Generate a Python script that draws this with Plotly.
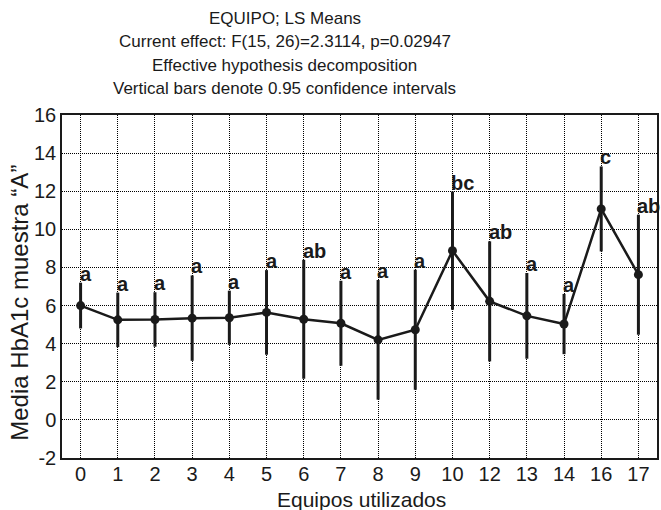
import plotly.graph_objects as go

equipos = ["0", "1", "2", "3", "4", "5", "6", "7", "8", "9", "10", "12", "13", "14", "16", "17"]
media = [6.0, 5.25, 5.27, 5.34, 5.36, 5.64, 5.28, 5.07, 4.2, 4.73, 8.88, 6.22, 5.46, 5.03, 11.07, 7.62]
ic_inf = [4.8, 3.82, 3.84, 3.1, 3.94, 3.42, 2.16, 2.84, 1.06, 1.58, 5.78, 3.07, 3.21, 3.45, 8.84, 4.47]
ic_sup = [7.2, 6.68, 6.7, 7.58, 6.78, 7.86, 8.4, 7.3, 7.34, 7.88, 11.98, 9.37, 7.71, 6.61, 13.3, 10.77]
grupos = ["a", "a", "a", "a", "a", "a", "ab", "a", "a", "a", "bc", "ab", "a", "a", "c", "ab"]

titulo = [
    "EQUIPO; LS Means",
    "Current effect: F(15, 26)=2.3114, p=0.02947",
    "Effective hypothesis decomposition",
    "Vertical bars denote 0.95 confidence intervals",
]
y_ticks = [-2, 0, 2, 4, 6, 8, 10, 12, 14, 16]
y_tick_labels = ["-2", "0", "2", "4", "6", "8", "10", "12", "14", "16"]

FONT = "Liberation Sans, Arial, sans-serif"

err_plus = [u - m for u, m in zip(ic_sup, media)]
err_minus = [m - l for m, l in zip(media, ic_inf)]

fig = go.Figure()
fig.add_trace(go.Scatter(
    x=equipos, y=media, mode="lines+markers",
    line=dict(color="#1a1a1a", width=2.5),
    marker=dict(color="#1a1a1a", size=9, symbol="circle"),
    error_y=dict(type="data", symmetric=False, array=err_plus, arrayminus=err_minus,
                 color="#1a1a1a", thickness=3, width=0),
    showlegend=False,
))

annotations = []
for i, (top, g) in enumerate(zip(ic_sup, grupos)):
    annotations.append(dict(
        x=i, y=top, xref="x", yref="y", text="<b>%s</b>" % g, showarrow=False,
        xanchor="left", yanchor="bottom", xshift=-3, yshift=-4,
        font=dict(family=FONT, size=20, color="#1a1a1a"),
    ))

title_y = [1.2800, 1.2140, 1.1440, 1.0760]
for t, yy in zip(titulo, title_y):
    annotations.append(dict(
        x=0.3744, y=yy, xref="paper", yref="paper", text=t, showarrow=False,
        xanchor="center", yanchor="middle",
        font=dict(family=FONT, size=17, color="#1a1a1a"),
    ))

annotations.append(dict(
    x=0.503, y=-0.122, xref="paper", yref="paper", text="Equipos utilizados",
    showarrow=False, xanchor="center", yanchor="middle",
    font=dict(family=FONT, size=21, color="#1a1a1a"),
))
annotations.append(dict(
    x=-0.071, y=0.452, xref="paper", yref="paper", text="Media HbA1c muestra “A”",
    showarrow=False, xanchor="center", yanchor="middle", textangle=-90,
    font=dict(family=FONT, size=24, color="#1a1a1a"),
))

fig.update_layout(
    width=661, height=510,
    margin=dict(l=62, r=2, t=115, b=52),
    paper_bgcolor="white", plot_bgcolor="white",
    font=dict(family=FONT, color="#1a1a1a"),
    annotations=annotations,
    xaxis=dict(
        type="category", range=[-0.5, 15.5],
        showgrid=True, gridcolor="#000000", gridwidth=1, griddash="1px,1px",
        showline=True, linecolor="#1a1a1a", linewidth=1.5, mirror=True,
        ticks="", tickfont=dict(family=FONT, size=20, color="#1a1a1a"),
        ticklabelstandoff=-3,
        zeroline=False,
    ),
    yaxis=dict(
        range=[-2, 16], tickvals=y_ticks, ticktext=y_tick_labels,
        showgrid=True, gridcolor="#000000", gridwidth=1, griddash="1px,1px",
        showline=True, linecolor="#1a1a1a", linewidth=1.5, mirror=True,
        ticks="", tickfont=dict(family=FONT, size=20, color="#1a1a1a"),
        zeroline=False,
    ),
)

fig.write_html(
    "out.html",
    config={"displayModeBar": False},
    post_script="document.body.style.margin='0px';document.body.style.overflow='hidden';",
)
